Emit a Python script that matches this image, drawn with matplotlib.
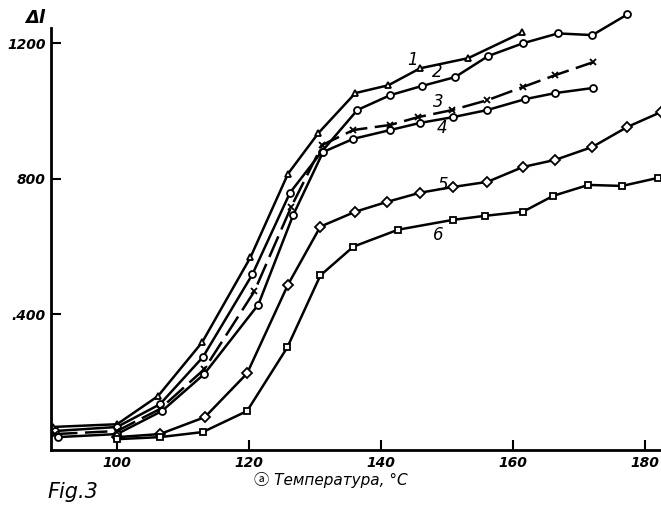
import numpy as np
import matplotlib.pyplot as plt

# readings from the scanned figure (temperature, deg C / elongation)
t1 = [90.3, 100, 106.2, 112.9, 120.2, 125.9, 130.5, 136.1, 141.1, 145.9, 153.2, 161.4]
v1 = [68, 76, 159, 318, 568, 815, 935, 1053, 1076, 1126, 1156, 1232]

t2 = [90.6, 100, 106.5, 113.0, 120.5, 126.2, 131.0, 136.4, 141.4, 146.2, 151.2, 156.2, 161.5, 166.8, 172.0, 177.3]
v2 = [56, 68, 135, 274, 518, 759, 880, 1003, 1047, 1074, 1100, 1162, 1200, 1229, 1224, 1285]

t3 = [90.6, 100, 106.5, 113.2, 120.8, 126.4, 131.1, 135.8, 141.4, 145.6, 150.8, 156.1, 161.5, 166.4, 172.1]
v3 = [47, 56, 121, 238, 468, 718, 900, 944, 959, 982, 1003, 1032, 1071, 1106, 1144]

t4 = [91.0, 100, 106.8, 113.2, 121.4, 126.7, 131.2, 135.8, 141.4, 145.9, 150.9, 156.1, 161.8, 166.4, 172.1]
v4 = [38, 47, 115, 224, 429, 694, 879, 918, 944, 965, 982, 1003, 1035, 1053, 1068]

t5 = [100, 106.5, 113.3, 119.7, 125.9, 130.8, 136.1, 140.9, 145.9, 150.9, 156.1, 161.5, 166.4, 172.0, 177.3, 182.4]
v5 = [38, 47, 97, 226, 488, 659, 703, 732, 759, 776, 791, 835, 856, 894, 953, 997]

t6 = [100, 106.5, 113.0, 119.7, 125.8, 130.8, 135.8, 142.6, 150.9, 155.8, 161.5, 166.1, 171.4, 176.5, 182.0]
v6 = [32, 38, 53, 115, 303, 515, 600, 650, 679, 691, 703, 750, 782, 779, 803]

curve_labels = ['1', '2', '3', '4', '5', '6']
label_t = [144.7, 148.5, 148.6, 149.2, 149.4, 148.6]
label_v = [1150, 1115, 1026, 950, 782, 635]

xticks = [100, 120, 140, 160, 180]
yticks = [400, 800, 1200]
ytick_labels = ['.400', '800', '1200']

fig = plt.figure(figsize=(6.61, 5.13), dpi=100)
ax = fig.add_axes([0.0772, 0.1228, 0.9228, 0.859])

common = dict(color='k', lw=1.8, mfc='white', mec='k', mew=1.3, ms=5)
ax.plot(t1, v1, marker='^', **common)
ax.plot(t2, v2, marker='o', **common)
ax.plot(t3, v3, marker='x', ls=(0, (9, 3)), **common)
ax.plot(t4, v4, marker='o', **common)
ax.plot(t5, v5, marker='D', **common)
ax.plot(t6, v6, marker='s', **common)

for lab, x, y in zip(curve_labels, label_t, label_v):
    ax.text(x, y, lab, fontsize=12, style='italic', ha='center', va='center')

ax.set_xlim(90, 182.4)
ax.set_ylim(0, 1300)
ax.spines['top'].set_visible(False)
ax.spines['right'].set_visible(False)
ax.spines['left'].set_linewidth(2)
ax.spines['bottom'].set_linewidth(2)
ax.spines['left'].set_bounds(0, 1245)

ax.set_xticks(xticks)
ax.set_xticklabels([str(x) for x in xticks], style='italic', fontweight='bold', fontsize=10)
ax.set_yticks(yticks)
ax.set_yticklabels(ytick_labels, style='italic', fontweight='bold', fontsize=10)
ax.tick_params(direction='in', length=7, width=1.5, pad=4)

fig.text(0.053, 0.965, 'Δl', fontsize=13, style='italic', fontweight='bold', ha='center', va='center')
fig.text(0.50, 0.064, 'ⓐ Температура, °C', fontsize=11, style='italic', ha='center', va='center',
         family=['DejaVu Sans', 'Noto Sans CJK JP'])
fig.text(0.11, 0.04, 'Fig.3', fontsize=15, style='italic', ha='center', va='center')

fig.savefig('out.png', dpi=100)
